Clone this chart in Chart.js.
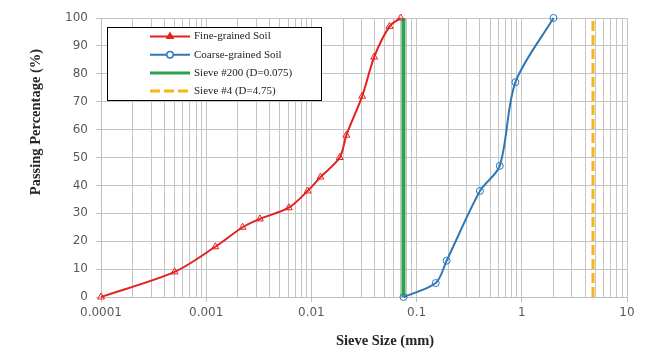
<!DOCTYPE html>
<html lang="en">
<head>
  <meta charset="UTF-8">
  <title>Grain size distribution</title>
  <script src="https://cdn.jsdelivr.net/npm/chart.js"></script>
  <style>
    body { margin: 0; background: #fff; }
    #wrap { width: 653px; height: 358px; }
  </style>
</head>
<body>
  <div id="wrap"><canvas id="gsd"></canvas></div>
  <script>
    // sieve size (mm) and passing (%)
    const fineSize = [0.0001, 0.0005, 0.00122, 0.00222, 0.00324, 0.0061, 0.0092, 0.0122, 0.0186, 0.0215, 0.0304, 0.0395, 0.0553, 0.0705];
    const finePass = [0, 9, 18, 25, 28, 32, 38, 43, 50, 58, 72, 86, 97, 100];
    const coarseSize = [0.075, 0.152, 0.193, 0.40, 0.617, 0.87, 2.0];
    const coarsePass = [0, 5, 13, 38, 47, 77, 100];
    const sieve200 = 0.075;
    const sieve4 = 4.75;
    const decades = [0.0001, 0.001, 0.01, 0.1, 1, 10];
    const decadeLabels = ['0.0001', '0.001', '0.01', '0.1', '1', '10'];
    const yTicks = [0, 10, 20, 30, 40, 50, 60, 70, 80, 90, 100];

    // log grid: 1..9 in every decade
    const xTicks = [];
    for (let i = 0; i < decades.length - 1; i++) {
      for (let m = 1; m <= 9; m++) xTicks.push(m === 1 ? decades[i] : decades[i] * m);
    }
    xTicks.push(decades[decades.length - 1]);

    const toPts = (xs, ys) => xs.map((x, i) => ({ x: x, y: ys[i] }));

    Chart.defaults.font.family = "'DejaVu Sans', sans-serif";
    Chart.defaults.font.size = 12;
    Chart.defaults.color = '#595959';

    // legend box sitting inside the plot + axis titles
    const boxLegend = {
      id: 'boxLegend',
      afterDraw(chart) {
        const ctx = chart.ctx;
        const x0 = 107.5, y0 = 27.5, w = 214, h = 73;
        ctx.save();
        ctx.fillStyle = '#fff';
        ctx.fillRect(x0, y0, w, h);
        ctx.strokeStyle = '#000';
        ctx.lineWidth = 1;
        ctx.strokeRect(x0, y0, w, h);
        chart.data.datasets.forEach((ds, i) => {
          const y = 36.5 + i * 18.2;
          ctx.strokeStyle = ds.borderColor;
          ctx.lineWidth = Math.min(ds.borderWidth, 3);
          ctx.setLineDash(ds.borderDash || []);
          ctx.beginPath();
          ctx.moveTo(150, y);
          ctx.lineTo(190, y);
          ctx.stroke();
          ctx.setLineDash([]);
          if (ds.pointRadius > 0) {
            Chart.helpers.drawPoint(ctx, {
              pointStyle: ds.pointStyle, radius: 3, borderWidth: 1, rotation: 0
            }, 170, y);
            ctx.fillStyle = ds.pointStyle === 'triangle' ? ds.borderColor : '#fff';
            ctx.strokeStyle = ds.borderColor;
            ctx.lineWidth = 1;
            ctx.fill();
            ctx.stroke();
          }
          ctx.fillStyle = '#222';
          ctx.font = "11px 'Liberation Serif', serif";
          ctx.textBaseline = 'middle';
          ctx.textAlign = 'left';
          ctx.fillText(ds.label, 194, y);
        });
        ctx.fillStyle = '#262626';
        ctx.font = "bold 14.5px 'Liberation Serif', serif";
        ctx.textAlign = 'center';
        ctx.textBaseline = 'middle';
        ctx.fillText('Sieve Size (mm)', 385, 341);
        ctx.translate(36, 122);
        ctx.rotate(-Math.PI / 2);
        ctx.fillText('Passing Percentage (%)', 0, 0);
        ctx.restore();
      }
    };

    new Chart(document.getElementById('gsd'), {
      type: 'line',
      data: {
        datasets: [{
          label: 'Fine-grained Soil',
          data: toPts(fineSize, finePass),
          borderColor: '#e3211f',
          borderWidth: 2,
          tension: 0.3,
          pointStyle: 'triangle',
          pointRadius: 4,
          pointBorderWidth: 1,
          pointBackgroundColor: 'rgba(255,255,255,0)',
          clip: false
        }, {
          label: 'Coarse-grained Soil',
          data: toPts(coarseSize, coarsePass),
          borderColor: '#2e78b7',
          borderWidth: 2,
          tension: 0.3,
          pointStyle: 'circle',
          pointRadius: 3.5,
          pointBorderWidth: 1,
          pointBackgroundColor: 'rgba(255,255,255,0)',
          clip: false
        }, {
          label: 'Sieve #200 (D=0.075)',
          data: [{ x: sieve200, y: 0 }, { x: sieve200, y: 100 }],
          borderColor: '#2ba24c',
          borderWidth: 4,
          pointRadius: 0
        }, {
          label: 'Sieve #4 (D=4.75)',
          data: [{ x: sieve4, y: 0 }, { x: sieve4, y: 100 }],
          borderColor: '#f4b619',
          borderWidth: 3,
          borderDash: [10, 4],
          pointRadius: 0
        }]
      },
      options: {
        responsive: true,
        maintainAspectRatio: false,
        animation: false,
        events: [],
        layout: { padding: { left: 0, right: 26, top: 18, bottom: 0 } },
        plugins: { legend: { display: false }, tooltip: { enabled: false } },
        scales: {
          x: {
            type: 'logarithmic',
            min: decades[0],
            max: decades[decades.length - 1],
            afterBuildTicks: axis => { axis.ticks = xTicks.map(v => ({ value: v })); },
            afterFit: axis => { axis.height = 61; },
            ticks: {
              autoSkip: false,
              maxRotation: 0,
              minRotation: 0,
              padding: 4,
              callback: v => {
                const k = decades.indexOf(v);
                return k >= 0 ? decadeLabels[k] : '';
              }
            },
            grid: {
              color: '#c4c4c4',
              tickLength: 5,
              tickColor: c => decades.includes(c.tick.value) ? '#bfbfbf' : 'rgba(0,0,0,0)'
            },
            border: { color: '#bfbfbf' }
          },
          y: {
            min: 0,
            max: 100,
            afterBuildTicks: axis => { axis.ticks = yTicks.map(v => ({ value: v })); },
            afterFit: axis => { axis.width = 101; },
            ticks: { padding: 8 },
            grid: { color: '#c4c4c4', tickLength: 5, tickColor: '#bfbfbf' },
            border: { color: '#bfbfbf' }
          }
        }
      },
      plugins: [boxLegend]
    });
  </script>
</body>
</html>
